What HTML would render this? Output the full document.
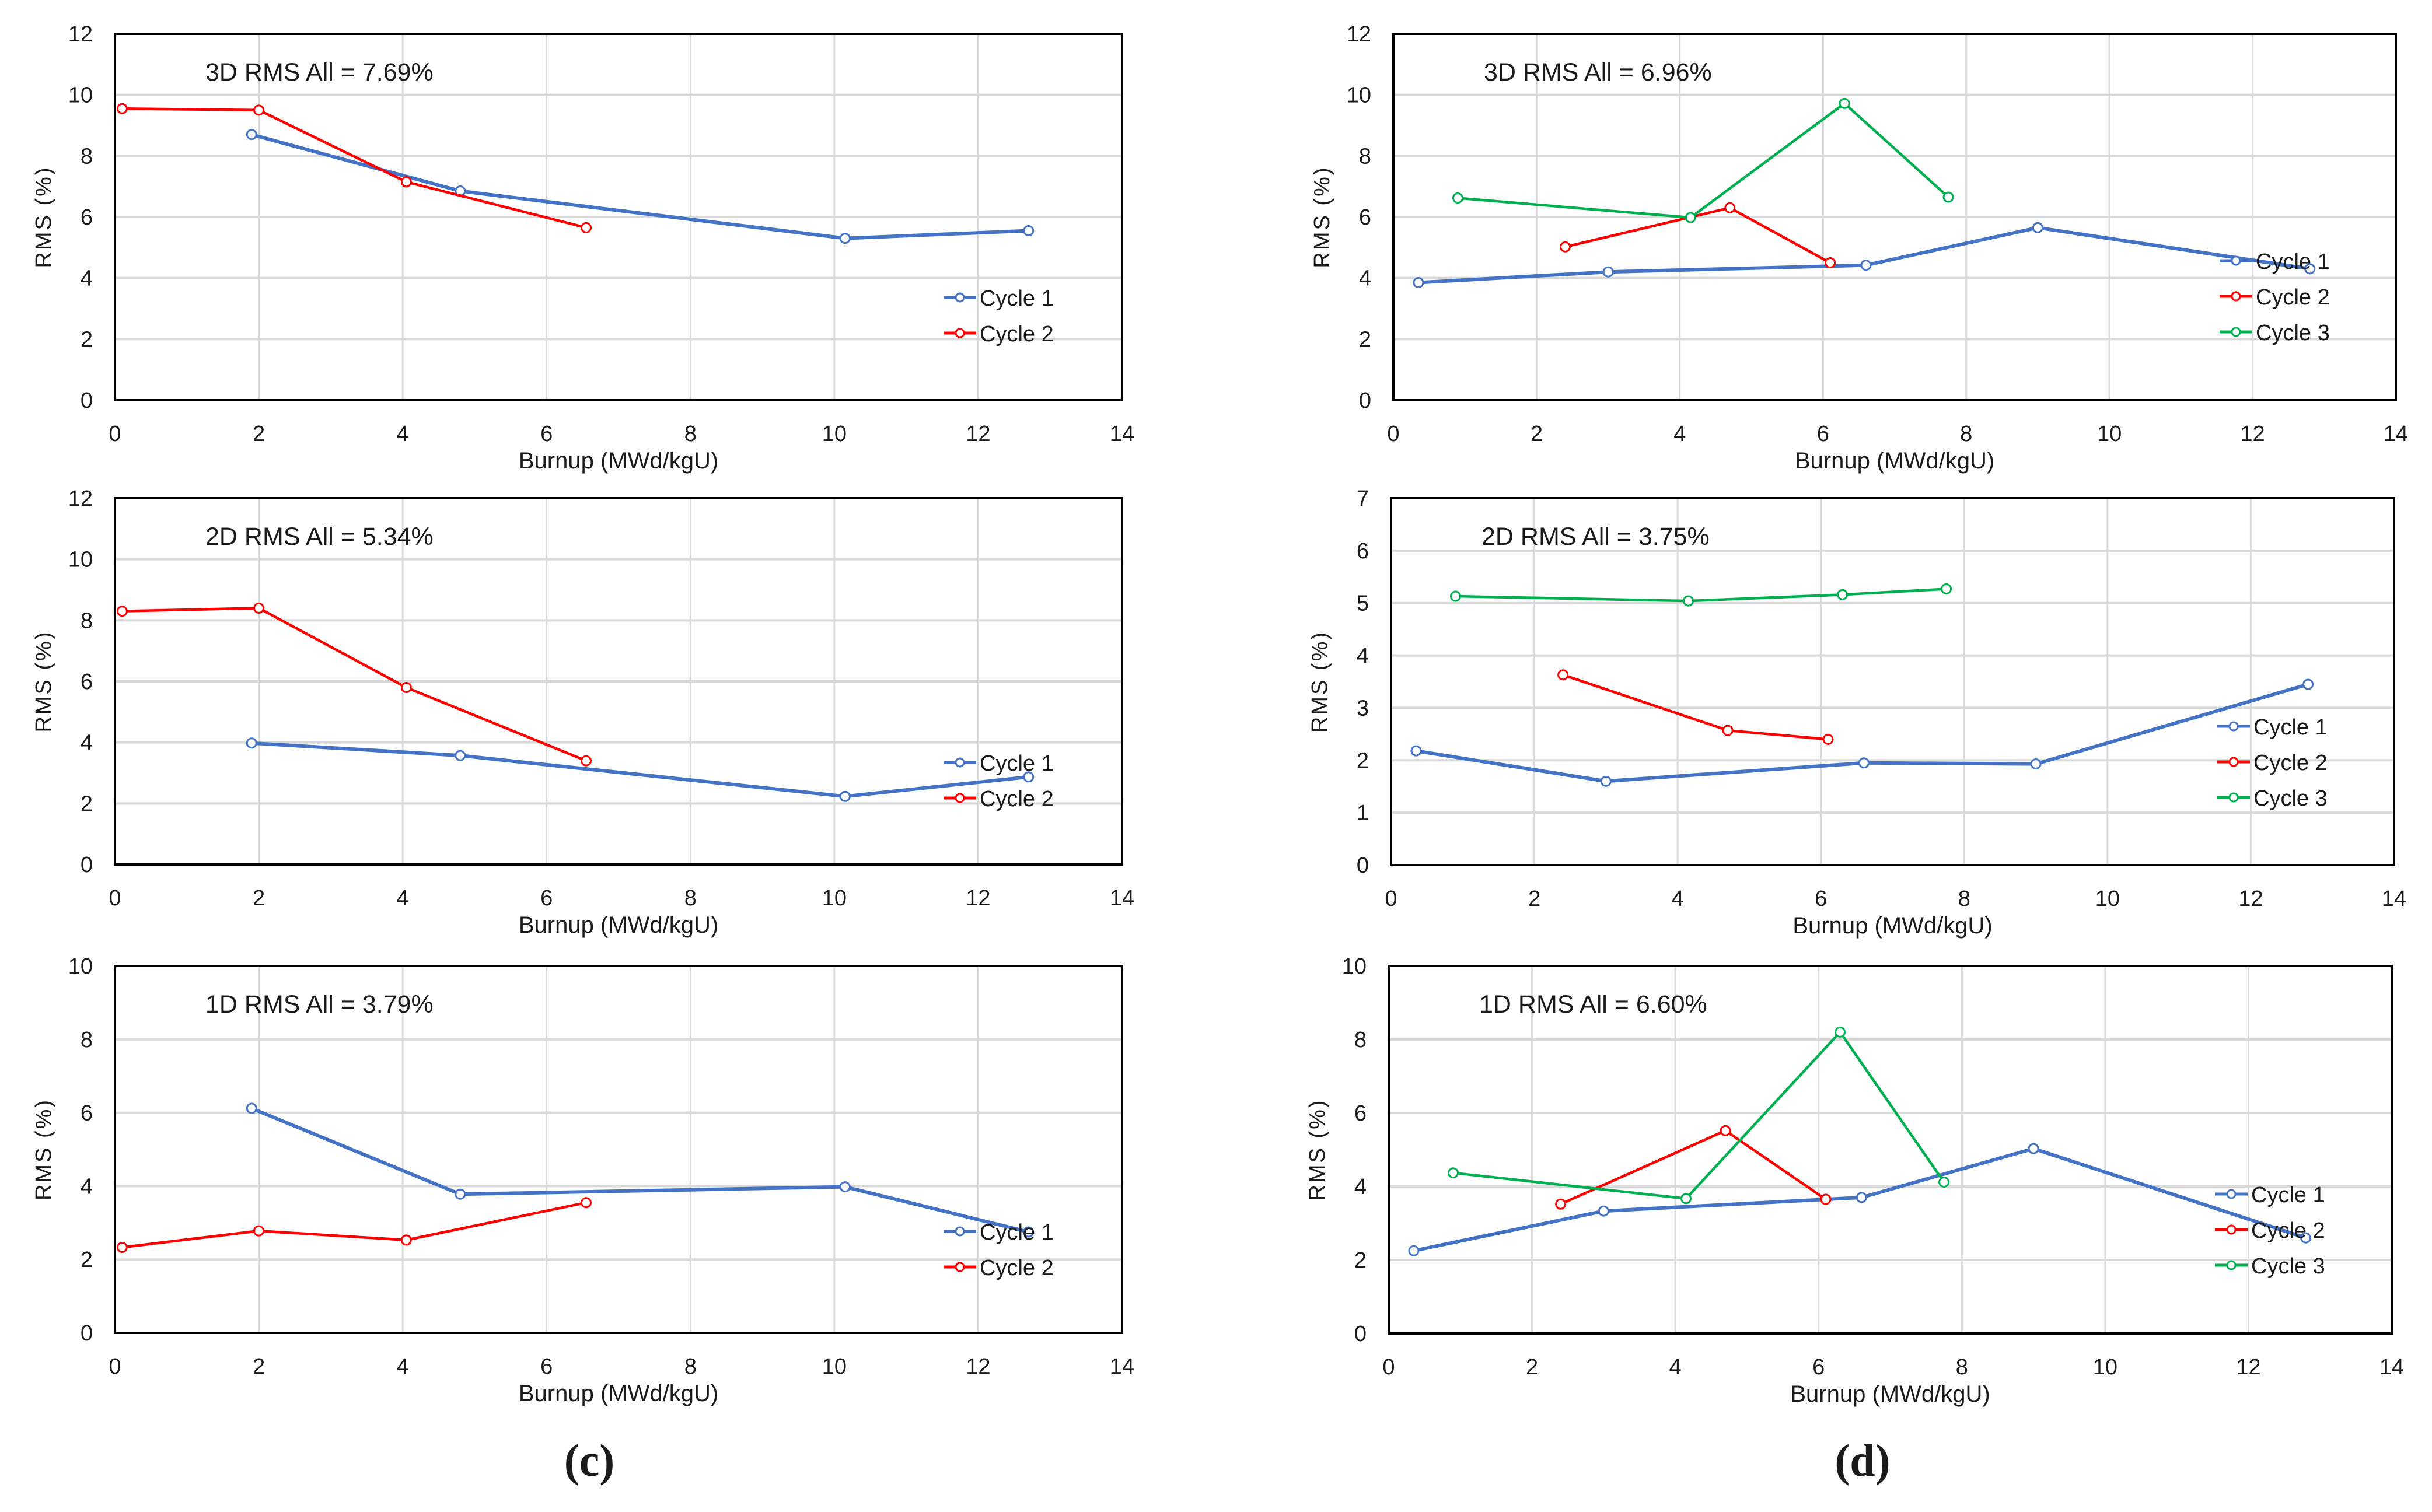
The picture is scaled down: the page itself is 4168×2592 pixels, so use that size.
<!DOCTYPE html>
<html><head><meta charset="utf-8"><style>
html,body{margin:0;padding:0;background:#fff;}
svg{display:block;}
text{font-family:"Liberation Sans",sans-serif;fill:#1a1a1a;}
</style></head>
<body>
<svg id="fig" width="4168" height="2592" viewBox="0 0 4168 2592" xmlns="http://www.w3.org/2000/svg">
<rect width="4168" height="2592" fill="#fff"/>
<text x="1010" y="2530" font-size="78" text-anchor="middle" style="font-family:'Liberation Serif',serif" font-weight="bold">(c)</text>
<text x="3192" y="2530" font-size="78" text-anchor="middle" style="font-family:'Liberation Serif',serif" font-weight="bold">(d)</text>
</svg>
<script>
const xTicks = [0,2,4,6,8,10,12,14];
const colors = ["#4472C4","#FF0000","#00B050"];
const seriesNames = ["Cycle 1","Cycle 2","Cycle 3"];

// Chart A: 3D left
const aC1x=[1.9,4.8,10.15,12.7], aC1y=[8.7,6.85,5.3,5.55];
const aC2x=[0.1,2.0,4.05,6.55], aC2y=[9.55,9.5,7.15,5.65];
// Chart B: 3D right
const bC1x=[0.35,3.0,6.6,9.0,12.8], bC1y=[3.85,4.2,4.42,5.65,4.3];
const bC2x=[2.4,4.7,6.1], bC2y=[5.02,6.3,4.5];
const bC3x=[0.9,4.15,6.3,7.75], bC3y=[6.62,5.98,9.72,6.65];
// Chart C: 2D left
const cC1x=[1.9,4.8,10.15,12.7], cC1y=[3.98,3.57,2.23,2.87];
const cC2x=[0.1,2.0,4.05,6.55], cC2y=[8.3,8.4,5.8,3.4];
// Chart D: 2D right
const dC1x=[0.35,3.0,6.6,9.0,12.8], dC1y=[2.18,1.6,1.95,1.93,3.45];
const dC2x=[2.4,4.7,6.1], dC2y=[3.63,2.57,2.4];
const dC3x=[0.9,4.15,6.3,7.75], dC3y=[5.13,5.04,5.16,5.27];
// Chart E: 1D left
const eC1x=[1.9,4.8,10.15,12.7], eC1y=[6.12,3.78,3.98,2.75];
const eC2x=[0.1,2.0,4.05,6.55], eC2y=[2.33,2.78,2.53,3.55];
// Chart F: 1D right
const fC1x=[0.35,3.0,6.6,9.0,12.8], fC1y=[2.25,3.33,3.7,5.03,2.6];
const fC2x=[2.4,4.7,6.1], fC2y=[3.52,5.52,3.65];
const fC3x=[0.9,4.15,6.3,7.75], fC3y=[4.37,3.67,8.2,4.12];

const aYTicks=[0,2,4,6,8,10,12], dYTicks=[0,1,2,3,4,5,6,7], eYTicks=[0,2,4,6,8,10];

const NS="http://www.w3.org/2000/svg";
const svg=document.getElementById('fig');
function el(tag,attrs,parent){const e=document.createElementNS(NS,tag);for(const k in attrs)e.setAttribute(k,attrs[k]);(parent||svg).appendChild(e);return e;}

function chart(id,L,R,T,B,yTicks,title,series,legendX,legendY){
  const g=el('g',{});
  
  
  const ymax=yTicks[yTicks.length-1];
  const sx=v=>L+(v-0)/14*(R-L);
  const sy=v=>B-v/ymax*(B-T);
  xTicks.forEach(t=>{
    if(t>0&&t<14){const l=el('line',{x1:sx(t),x2:sx(t),y1:T,y2:B,stroke:'#d9d9d9','stroke-width':3},g);
    }
    const tx=el('text',{x:sx(t),y:B+70,'font-size':38,'text-anchor':'middle'},g);tx.textContent=t;
    
  });
  yTicks.forEach(t=>{
    if(t>0&&t<ymax){const l=el('line',{x1:L,x2:R,y1:sy(t),y2:sy(t),stroke:'#d9d9d9','stroke-width':4},g);
    }
    const ty=el('text',{x:L-38,y:sy(t)+13,'font-size':38,'text-anchor':'end'},g);ty.textContent=t;
    
  });
  const fr=el('rect',{x:L,y:T,width:R-L,height:B-T,fill:'none',stroke:'#000','stroke-width':4},g);
  
  const an=el('text',{x:L+155,y:T+80,'font-size':43},g);an.textContent=title;
  
  const xt=el('text',{x:(L+R)/2,y:B+117,'font-size':40,'text-anchor':'middle'},g);xt.textContent='Burnup (MWd/kgU)';
  
  const yx=L-110, yy=(T+B)/2;
  const yt=el('text',{x:yx,y:yy,'font-size':38,'text-anchor':'middle',transform:`rotate(-90 ${yx} ${yy})`,'letter-spacing':'3'},g);yt.textContent='RMS (%)';
  
  series.forEach((s,i)=>{
    const [xs,ys]=s;
    const pts=xs.map((x,j)=>sx(x)+','+sy(ys[j])).join(' ');
    const pl=el('polyline',{points:pts,fill:'none',stroke:colors[i],'stroke-width':i==0?6:4.5,'stroke-linejoin':'round'},g);
    
    xs.forEach((x,j)=>{const c=el('circle',{cx:sx(x),cy:sy(ys[j]),r:8,fill:'#fff',stroke:colors[i],'stroke-width':3},g);
      });
    const ly=legendY+i*61;
    const lg=el('g',{},g);
    
    el('line',{x1:legendX,x2:legendX+56,y1:ly,y2:ly,stroke:colors[i],'stroke-width':5},lg);
    el('circle',{cx:legendX+28,cy:ly,r:7,fill:'#fff',stroke:colors[i],'stroke-width':3},lg);
    const lt=el('text',{x:legendX+62,y:ly+14,'font-size':38},lg);lt.textContent=seriesNames[i];
  });
}
chart('chart-3d-left',197,1923,58,686,aYTicks,'3D RMS All = 7.69%',[[aC1x,aC1y],[aC2x,aC2y]],1617,510);
chart('chart-3d-right',2388,4106,58,686,aYTicks,'3D RMS All = 6.96%',[[bC1x,bC1y],[bC2x,bC2y],[bC3x,bC3y]],3804,447);
chart('chart-2d-left',197,1923,854,1482,aYTicks,'2D RMS All = 5.34%',[[cC1x,cC1y],[cC2x,cC2y]],1617,1307);
chart('chart-2d-right',2384,4103,854,1483,dYTicks,'2D RMS All = 3.75%',[[dC1x,dC1y],[dC2x,dC2y],[dC3x,dC3y]],3800,1245);
chart('chart-1d-left',197,1923,1656,2285,eYTicks,'1D RMS All = 3.79%',[[eC1x,eC1y],[eC2x,eC2y]],1617,2111);
chart('chart-1d-right',2380,4099,1656,2286,eYTicks,'1D RMS All = 6.60%',[[fC1x,fC1y],[fC2x,fC2y],[fC3x,fC3y]],3796,2047);
</script>
</body></html>
